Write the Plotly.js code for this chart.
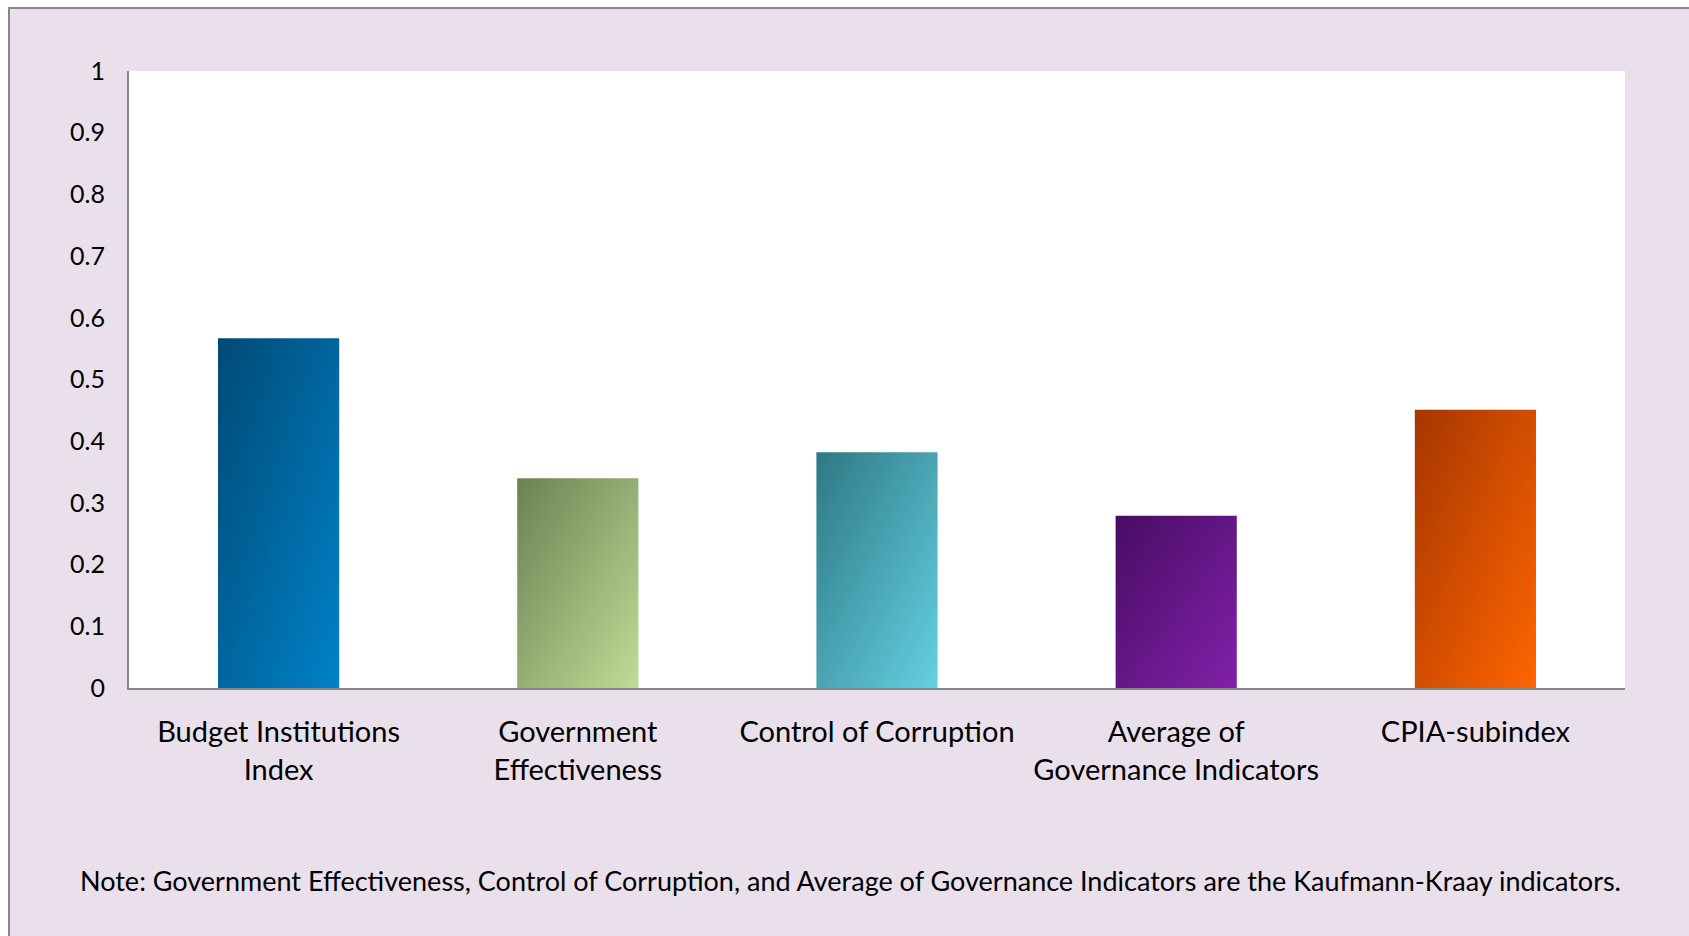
<!DOCTYPE html>
<html>
<head>
<meta charset="utf-8">
<script src="https://cdn.plot.ly/plotly-3.0.1.min.js"></script>
<style>
  html, body { margin: 0; padding: 0; background: #ffffff; width: 1689px; height: 936px; overflow: hidden; }
  #frame { position: absolute; left: 8px; top: 7px; width: 1681px; height: 929px;
           border-top: 2px solid #888888; border-left: 2px solid #888888; background: #e9e0ec; }
  #chart { width: 1679px; height: 927px; }
</style>
</head>
<body>
<div id="frame"><div id="chart"></div></div>
<script>
const categories = [
  "Budget Institutions<br>Index",
  "Government<br>Effectiveness",
  "Control of Corruption",
  "Average of<br>Governance Indicators",
  "CPIA-subindex"
];
const values = [0.567, 0.340, 0.382, 0.279, 0.451];
const yTickVals = [0, 0.1, 0.2, 0.3, 0.4, 0.5, 0.6, 0.7, 0.8, 0.9, 1];
const yTickText = ["0", "0.1", "0.2", "0.3", "0.4", "0.5", "0.6", "0.7", "0.8", "0.9", "1"];
const gradientStops = [
  ["#004a75", "#0082c9"],
  ["#6a8253", "#bedc95"],
  ["#2f7884", "#64d1e2"],
  ["#480c63", "#8021aa"],
  ["#a63600", "#ff6500"]
];
const midColors = ["#0067a0", "#98b475", "#4aa5b4", "#641888", "#d44f00"];
const noteText = "Note: Government Effectiveness, Control of Corruption, and Average of Governance Indicators are the Kaufmann-Kraay indicators.";

const FONT = "Lato, 'Open Sans', sans-serif";

const trace = {
  type: "bar",
  x: categories,
  y: values,
  width: 0.405,
  marker: { color: midColors, line: { width: 0 } },
  hoverinfo: "x+y"
};

const layout = {
  width: 1679,
  height: 927,
  margin: { l: 119, r: 64, t: 62, b: 248 },
  paper_bgcolor: "rgba(0,0,0,0)",
  plot_bgcolor: "#ffffff",
  showlegend: false,
  font: { family: FONT, color: "#000000" },
  xaxis: {
    type: "category",
    range: [-0.5, 4.5],
    showline: true, linecolor: "#878787", linewidth: 2,
    showgrid: false, zeroline: false, ticks: "",
    ticklabelstandoff: 17,
    tickfont: { family: FONT, size: 29, color: "#000000" }
  },
  yaxis: {
    range: [0, 1],
    tickvals: yTickVals, ticktext: yTickText,
    showline: true, linecolor: "#878787", linewidth: 2,
    showgrid: false, zeroline: false, ticks: "",
    ticklabelstandoff: 17,
    tickfont: { family: FONT, size: 25, color: "#000000" }
  },
  annotations: [{
    text: noteText,
    xref: "paper", yref: "paper",
    x: 0.4826, y: -(880 - 688) / 617,
    xanchor: "center", yanchor: "middle",
    showarrow: false,
    font: { family: FONT, size: 27, color: "#000000" }
  }]
};

function applyGradients() {
  const gd = document.getElementById("chart");
  const svg = gd.querySelector(".main-svg");
  if (!svg) return;
  let defs = svg.querySelector("defs");
  if (!defs) { defs = document.createElementNS("http://www.w3.org/2000/svg", "defs"); svg.insertBefore(defs, svg.firstChild); }
  gradientStops.forEach((st, i) => {
    const id = "barGrad" + i;
    if (defs.querySelector("#" + id)) return;
    const g = document.createElementNS("http://www.w3.org/2000/svg", "linearGradient");
    g.setAttribute("id", id);
    g.setAttribute("x1", "0"); g.setAttribute("y1", "0");
    g.setAttribute("x2", "1"); g.setAttribute("y2", "1");
    [[0, st[0]], [1, st[1]]].forEach(([off, c]) => {
      const s = document.createElementNS("http://www.w3.org/2000/svg", "stop");
      s.setAttribute("offset", off);
      s.setAttribute("stop-color", c);
      g.appendChild(s);
    });
    defs.appendChild(g);
  });
  const paths = gd.querySelectorAll(".trace.bars .point path");
  paths.forEach((p, i) => { p.style.fill = "url(#barGrad" + i + ")"; });
}

Plotly.newPlot("chart", [trace], layout, { displayModeBar: false, responsive: false })
  .then(applyGradients);
</script>
</body>
</html>
